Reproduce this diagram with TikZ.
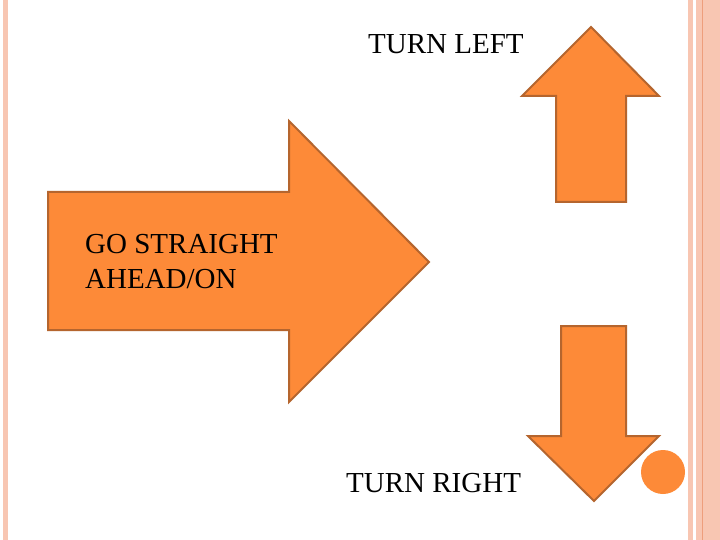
\documentclass[tikz,border=0pt]{standalone}
\usepackage{fontspec}
\setmainfont{Liberation Serif}
\definecolor{arrfill}{HTML}{FD8A38}
\definecolor{arrline}{HTML}{B5652E}
\definecolor{bordlight}{HTML}{F8C6B2}
\definecolor{borddark}{HTML}{EE9E7C}
\tikzset{
  arrowshape/.style={fill=arrfill, draw=arrline, line width=2pt, line join=miter},
  label/.style={anchor=west, inner sep=0pt, font=\fontsize{29}{35}\selectfont, align=left}
}
\begin{document}
\begin{tikzpicture}[x=1pt,y=-1pt]
\useasboundingbox (0,0) rectangle (720,540);
\fill[white] (0,0) rectangle (720,540);
% borders
\fill[bordlight] (3,0) rectangle (8,540);
\fill[bordlight] (688,0) rectangle (693,540);
\fill[bordlight] (696,0) rectangle (720,540);
\fill[borddark] (701.5,0) rectangle (703,540);
% big right arrow
\draw[arrowshape] (48,192) -- (289,192) -- (289,121) -- (429,262) -- (289,402) -- (289,330) -- (48,330) -- cycle;
% up arrow
\draw[arrowshape] (556,202) -- (556,96) -- (522,96) -- (591,27) -- (659,96) -- (626,96) -- (626,202) -- cycle;
% down arrow
\draw[arrowshape] (561,326) -- (626,326) -- (626,436) -- (659,436) -- (594,501) -- (528,436) -- (561,436) -- cycle;
% dot
\fill[arrfill] (663,472) circle (22);
% texts
\node[label] (left) at (368,44) {TURN LEFT};
\node[label] (straight) at (85,262) {GO STRAIGHT\\AHEAD/ON};
\node[label] (right) at (346,483) {TURN RIGHT};
\end{tikzpicture}
\end{document}
